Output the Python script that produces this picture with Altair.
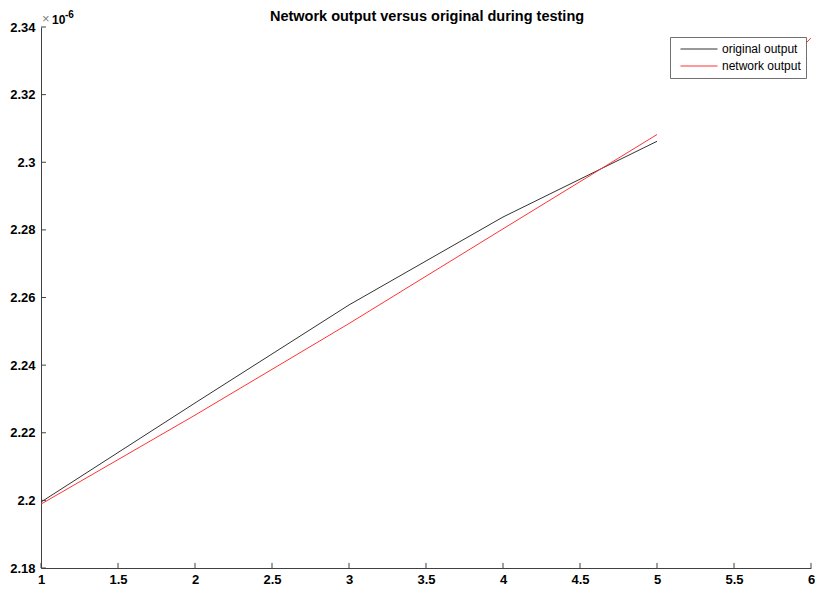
import altair as alt
import pandas as pd

# data (y values in units of 1e-6)
x_vals = [1, 2, 3, 4, 5]
original_output = [2.1995, 2.2288, 2.2578, 2.2838, 2.3062]
network_output = [2.1989, 2.2252, 2.2523, 2.2803, 2.3082]
# short stray red segment visible at the top-right corner
stray_x = [5.94, 6.0]
stray_y = [2.3339, 2.3368]

x_ticks = [1, 1.5, 2, 2.5, 3, 3.5, 4, 4.5, 5, 5.5, 6]
y_ticks = [2.18, 2.2, 2.22, 2.24, 2.26, 2.28, 2.3, 2.32, 2.34]

TITLE = "Network output versus original during testing"
FONT = "Liberation Sans"

rows = []
for x, y in zip(x_vals, original_output):
    rows.append({"x": x, "y": y, "series": "original output"})
for x, y in zip(x_vals, network_output):
    rows.append({"x": x, "y": y, "series": "network output"})
df = pd.DataFrame(rows)
stray = pd.DataFrame({"x": stray_x, "y": stray_y})

xs = alt.Scale(domain=[1, 6], nice=False, zero=False)
ys = alt.Scale(domain=[2.18, 2.34], nice=False, zero=False)

xaxis = alt.Axis(values=x_ticks, format="~g", title=None, grid=False, tickSize=0,
                 domainColor="#404040", labelFont=FONT, labelFontSize=13,
                 labelFontWeight="bold", labelColor="black", labelPadding=5,
                 labelFlush=False, labelOverlap=False)
yaxis = alt.Axis(values=y_ticks, format="~g", title=None, grid=False, tickSize=0,
                 domainColor="#404040", labelFont=FONT, labelFontSize=13,
                 labelFontWeight="bold", labelColor="black", labelPadding=6,
                 labelFlush=False, labelOverlap=False)

lines = alt.Chart(df).mark_line(strokeWidth=1, clip=True).encode(
    x=alt.X("x:Q", scale=xs, axis=xaxis),
    y=alt.Y("y:Q", scale=ys, axis=yaxis),
    color=alt.Color(
        "series:N",
        scale=alt.Scale(domain=["original output", "network output"],
                        range=["#333333", "#ff3333"]),
        legend=alt.Legend(
            title=None, orient="none", legendX=629, legendY=10,
            symbolType="stroke", symbolSize=1369, symbolStrokeWidth=1,
            clipHeight=14, rowPadding=3,
            labelFont=FONT, labelFontSize=12, labelColor="black",
            strokeColor="#707070", fillColor="white", padding=5,
            labelOffset=4, symbolOffset=5,
        ),
    ),
    detail="series:N",
)

stray_line = alt.Chart(stray).mark_line(strokeWidth=1, color="#ff3333", clip=True).encode(
    x=alt.X("x:Q", scale=xs), y=alt.Y("y:Q", scale=ys)
)

xt = pd.DataFrame({"x": x_ticks, "y": [2.18] * len(x_ticks), "y2": [2.1815] * len(x_ticks)})
yt = pd.DataFrame({"y": y_ticks, "x": [1] * len(y_ticks), "x2": [1.032] * len(y_ticks)})

xtick_marks = alt.Chart(xt).mark_rule(color="#404040", strokeWidth=1).encode(
    x=alt.X("x:Q", scale=xs), y=alt.Y("y:Q", scale=ys), y2="y2:Q"
)
ytick_marks = alt.Chart(yt).mark_rule(color="#404040", strokeWidth=1).encode(
    y=alt.Y("y:Q", scale=ys), x=alt.X("x:Q", scale=xs), x2="x2:Q"
)

one = alt.Data(values=[{"a": 1}])
times = alt.Chart(one).mark_text(text="×", font=FONT, fontSize=13, color="#808080",
                                 align="left", baseline="alphabetic").encode(
    x=alt.value(1), y=alt.value(-4))
ten = alt.Chart(one).mark_text(text="10", font=FONT, fontSize=12, fontWeight="bold",
                               color="black", align="left", baseline="alphabetic").encode(
    x=alt.value(11), y=alt.value(-3))
exp = alt.Chart(one).mark_text(text="-6", font=FONT, fontSize=10, fontWeight="bold",
                               color="black", align="left", baseline="alphabetic").encode(
    x=alt.value(24), y=alt.value(-9))
title = alt.Chart(one).mark_text(text=TITLE, font=FONT, fontSize=14.5, fontWeight="bold",
                                 color="black", align="center", baseline="alphabetic").encode(
    x=alt.value(386), y=alt.value(-6))

chart = alt.layer(lines, stray_line, xtick_marks, ytick_marks, times, ten, exp, title).properties(
    width=770, height=541,
    autosize=alt.AutoSizeParams(type="none"),
    padding={"left": 33, "top": 19, "right": 4, "bottom": 18},
).configure(background="white", view=alt.ViewConfig(stroke=None))

chart.save("out.html", embed_options={"renderer": "svg", "actions": False})
